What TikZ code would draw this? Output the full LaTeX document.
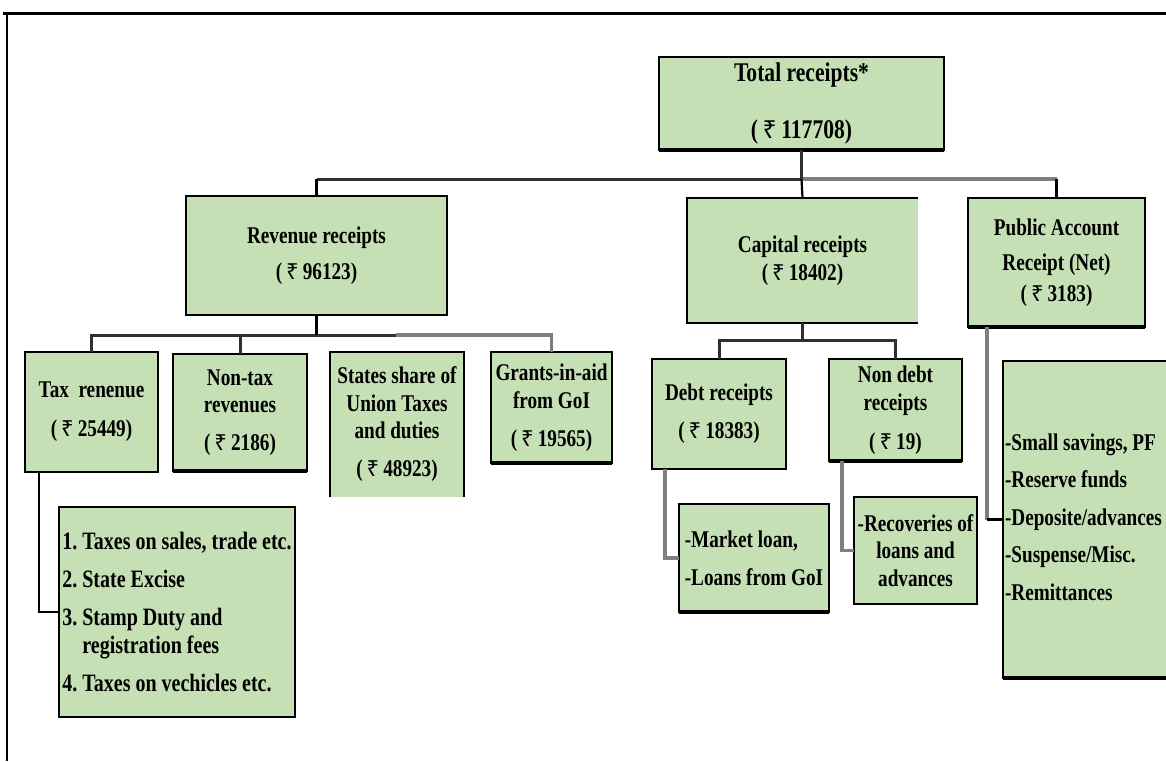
\documentclass[tikz,border=0pt]{standalone}
\usepackage{fontspec}
\setmainfont{Liberation Serif}[FakeStretch=0.8]
\newfontfamily\rupeefont{Noto Sans}[Scale=0.92]
\newcommand\rsym{{\rupeefont\bfseries ₹}}
\usetikzlibrary{calc}
\definecolor{boxgreen}{HTML}{C5E0B4}
\definecolor{darkline}{HTML}{303030}
\definecolor{greyline}{HTML}{7F7F7F}
\frenchspacing
\begin{document}
\begin{tikzpicture}[x=1pt,y=-1pt,
  box/.style={draw=black, line width=1.9pt, fill=boxgreen, inner sep=0pt, outer sep=0pt,
    align=center, font=\fontsize{24}{27.5}\selectfont\bfseries},
  boxnb/.style={box, draw=none},
  border/.style={line width=1.9pt, black},
  thick bottom/.style={line width=3.4pt, black},
  dkbus/.style={line width=3pt, darkline},
  gbus/.style={line width=3.6pt, greyline},
  thinln/.style={line width=2.2pt, black}]
\useasboundingbox (0,0) rectangle (1166,761);
% frame
\draw[line width=3pt] (3,13) -- (1166,13);
\draw[line width=2.5pt] (7,13) -- (7,761);

% boxes
\node[box, minimum width=285pt, minimum height=93pt, font=\fontsize{27}{30}\selectfont\bfseries]
  (total) at (801.5,103.5) {Total receipts*\\[27pt](\,\rsym\,117708)};
\node[box, minimum width=261pt, minimum height=119pt]
  (rev) at (316.5,255.5) {Revenue receipts\\[8.5pt](\,\rsym\,96123)};
\node[boxnb, minimum width=231pt, minimum height=125pt]
  (cap) at (802.5,260.5) {Capital receipts\\[0.5pt](\,\rsym\,18402)};
\draw[border] (cap.north east) -- (cap.north west) -- (cap.south west) -- (cap.south east);
\node[box, minimum width=177pt, minimum height=129pt]
  (pub) at (1056.5,262.5) {Public Account\\[7.5pt]Receipt (Net)\\[3.5pt](\,\rsym\,3183)};
\node[box, minimum width=133pt, minimum height=120pt]
  (tax) at (91.5,412) {Tax\ \ renenue\\[11.5pt](\,\rsym\,25449)};
\node[box, minimum width=134pt, minimum height=117pt]
  (nontax) at (240,412.5) {Non-tax\\revenues\\[10.5pt](\,\rsym\,2186)};
\node[boxnb, minimum width=134pt, minimum height=145pt]
  (states) at (397,424.5) {States share of\\Union Taxes\\and duties\\[10.5pt](\,\rsym\,48923)};
\draw[border] (states.south west) -- (states.north west) -- (states.north east) -- (states.south east);
\node[box, minimum width=121pt, minimum height=111pt]
  (grants) at (551.5,407.5) {Grants-in-aid\\from GoI\\[10.5pt](\,\rsym\,19565)};
\node[box, minimum width=134pt, minimum height=110pt]
  (debt) at (719,414) {Debt receipts\\[10.5pt](\,\rsym\,18383)};
\node[box, minimum width=133pt, minimum height=102pt]
  (nondebt) at (895.5,410) {Non debt\\receipts\\[11.5pt](\,\rsym\,19)};
\node[box, align=left, minimum width=236pt, minimum height=210pt, font=\fontsize{25}{28}\selectfont\bfseries]
  (taxlist) at (177,612) {1. Taxes on sales, trade etc.\\[10pt]2. State Excise\\[10pt]3. Stamp Duty and\\\phantom{3. }registration fees\\[10pt]4. Taxes on vechicles etc.};
\node[box, align=left, minimum width=150pt, minimum height=108pt]
  (market) at (754,558) {-Market loan,\\[10.5pt]-Loans from GoI};
\node[box, minimum width=123pt, minimum height=107pt]
  (recov) at (915.5,550.5) {-Recoveries of\\loans and\\advances};
\node[box, minimum width=167pt, minimum height=317pt]
  (publist) at (1086.5,519.5) {\makebox[163pt][l]{\begin{tabular}{@{}l@{}}-Small savings, PF\\[10pt]-Reserve funds\\[10pt]-Deposite/advances\\[10pt]-Suspense/Misc.\\[10pt]-Remittances\end{tabular}}};

% heavier bottom edges
\foreach \b in {total,pub,nontax,grants,nondebt,market,publist}
  \draw[thick bottom] (\b.south west) -- (\b.south east);

% level 1 connectors
\coordinate (tb) at (801.5,179);
\draw[gbus] (tb) -- (tb -| pub.north);
\draw[thinln] (tb -| pub.north) -- (pub.north);
\draw[dkbus] (tb) -- (tb -| rev.north);
\draw[thinln] (tb -| rev.north) -- (rev.north);
\draw[thinln] (tb) -- (cap.north);
\draw[dkbus] (total.south) -- (tb);

% revenue children
\coordinate (rb) at (316.5,335);
\coordinate (rbg) at (396,335);
\draw[gbus] (rbg) -| (grants.north);
\draw[dkbus] (tax.north) |- (rbg);
\draw[dkbus] (nontax.north) -- (nontax.north |- rb);
\draw[line width=3.4pt, black] (rev.south) -- (rb);

% capital children
\coordinate (cb) at (802.5,340);
\draw[dkbus] (cap.south) -- (cb);
\draw[dkbus] (debt.north) |- (cb) -| (nondebt.north);

% sub-lists
\path ([xshift=14pt]tax.south west) coordinate (ta);
\draw[thinln] (ta) |- (taxlist.west);
\path ([xshift=13pt]debt.south west) coordinate (da);
\draw[gbus] (da) |- (market.west);
\path ([xshift=13pt]nondebt.south west) coordinate (na);
\draw[gbus] (na) |- (recov.west);
\path ([xshift=19pt]pub.south west) coordinate (pa);
\draw[gbus] (pa) -- (pa |- publist.west);
\draw[thinln] (pa |- publist.west) -- (publist.west);
\end{tikzpicture}
\end{document}
